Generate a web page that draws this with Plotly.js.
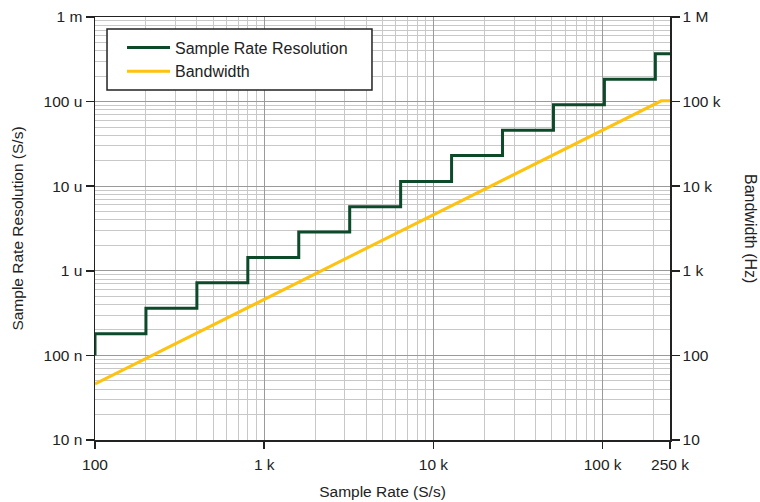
<!DOCTYPE html>
<html>
<head>
<meta charset="utf-8">
<script src="https://cdn.plot.ly/plotly-3.0.1.min.js"></script>
<style>
html,body{margin:0;padding:0;background:#fff;}
#chart{width:760px;height:502px;}
</style>
</head>
<body>
<div id="chart"></div>
<script>
// Sample Rate Resolution step series (S/s)
var stepRates = [100, 100, 200, 400, 800, 1600, 3200, 6400, 12800, 25600, 51200, 102400, 204800, 250000];
var resolution = [1e-7, 0.18e-6, 0.36e-6, 0.72e-6, 1.44e-6, 2.88e-6, 5.7e-6, 11.4e-6, 23e-6, 46e-6, 92e-6, 184e-6, 368e-6, 368e-6];
// Bandwidth (Hz)
var bwRates = [100, 222000, 250000];
var bandwidth = [46, 102000, 102000];

var xTickVals = [100, 1000, 10000, 100000, 250000];
var xTickText = ['100', '1 k', '10 k', '100 k', '250 k'];
var yTickVals = [1e-8, 1e-7, 1e-6, 1e-5, 1e-4, 1e-3];
var yTickText = ['10 n', '100 n', '1 u', '10 u', '100 u', '1 m'];
var y2TickVals = [10, 100, 1000, 10000, 100000, 1000000];
var y2TickText = ['10', '100', '1 k', '10 k', '100 k', '1 M'];

function minorVals(lo, hi) {
  var out = [];
  for (var d = lo; d < hi; d *= 10) {
    for (var m = 2; m <= 9; m++) { if (d * m < hi) out.push(d * m); }
  }
  return out;
}
var xMinor = minorVals(100, 250000);
var yMinor = minorVals(1e-8, 1e-3);

var font = 'Liberation Sans, Arial, Helvetica, sans-serif';
var fs = 15.5;

var traces = [
  {x: stepRates, y: resolution, type: 'scatter', mode: 'lines', line: {shape: 'hv', color: '#0c4a2a', width: 3},
   name: 'Sample Rate Resolution', yaxis: 'y'},
  {x: bwRates, y: bandwidth, type: 'scatter', mode: 'lines', line: {color: '#ffc20e', width: 3},
   name: 'Bandwidth', yaxis: 'y2'}
];

var layout = {
  width: 760, height: 502,
  margin: {l: 95, r: 90, t: 17, b: 62},
  paper_bgcolor: '#fff', plot_bgcolor: '#fff',
  font: {family: font, size: fs, color: '#222'},
  showlegend: true,
  legend: {x: 0.047, y: 0.968, xanchor: 'left', yanchor: 'top', bgcolor: 'rgba(0,0,0,0)',
    borderwidth: 0, font: {family: font, size: 16, color: '#222'},
    tracegroupgap: 0, itemwidth: 43},
  shapes: [
    {type: 'rect', xref: 'paper', yref: 'paper', x0: 0.0209, x1: 0.4817, y0: 0.8274, y1: 0.9716,
     fillcolor: '#fff', line: {color: '#222', width: 1.5}, layer: 'above'}
  ],
  xaxis: {type: 'log', range: [2, Math.log10(250000)], tickmode: 'array', tickvals: xTickVals, ticktext: xTickText,
    ticks: 'outside', ticklen: 7, tickcolor: '#222', tickwidth: 1.5, ticklabelstandoff: 3,
    showline: true, linecolor: '#222', linewidth: 1.5, mirror: true,
    showgrid: true, gridcolor: '#9a9a9a', gridwidth: 1, zeroline: false,
    minor: {tickmode: 'array', tickvals: xMinor, showgrid: true, gridcolor: '#c8c8c8', gridwidth: 1, ticks: ''},
    title: {text: 'Sample Rate (S/s)', font: {family: font, size: fs, color: '#222'}, standoff: 14},
    tickfont: {family: font, size: fs, color: '#222'}},
  yaxis: {type: 'log', range: [-8, -3], tickmode: 'array', tickvals: yTickVals, ticktext: yTickText,
    ticks: 'outside', ticklen: 8, tickcolor: '#222', tickwidth: 1.5,
    showline: true, linecolor: '#222', linewidth: 1.5,
    showgrid: true, gridcolor: '#9a9a9a', gridwidth: 1, zeroline: false,
    minor: {tickmode: 'array', tickvals: yMinor, showgrid: true, gridcolor: '#c8c8c8', gridwidth: 1, ticks: ''},
    title: {text: 'Sample Rate Resolution (S/s)', font: {family: font, size: fs, color: '#222'}, standoff: 16},
    tickfont: {family: font, size: fs, color: '#222'}},
  yaxis2: {type: 'log', range: [1, 6], overlaying: 'y', side: 'right', tickmode: 'array', tickvals: y2TickVals, ticktext: y2TickText,
    ticks: 'outside', ticklen: 8, tickcolor: '#222', tickwidth: 1.5,
    showline: true, linecolor: '#222', linewidth: 1.5,
    showgrid: false, zeroline: false,
    tickfont: {family: font, size: fs, color: '#222'}},
  annotations: [
    {text: 'Bandwidth (Hz)', xref: 'paper', yref: 'paper', x: 1, xshift: 91, y: 0.5, showarrow: false,
     textangle: 90, font: {family: font, size: 16, color: '#222'}}
  ]
};

Plotly.newPlot('chart', traces, layout, {staticPlot: true, displayModeBar: false});
</script>
</body>
</html>
